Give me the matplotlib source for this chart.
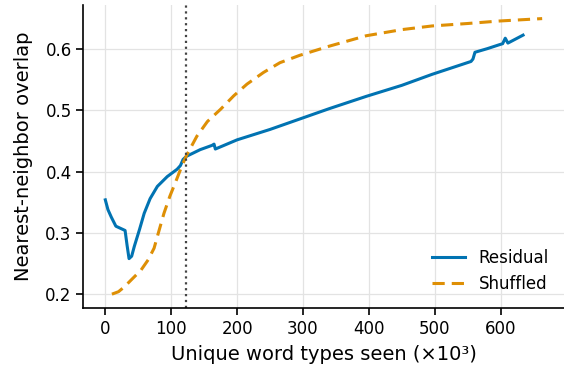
import numpy as np
import matplotlib.pyplot as plt

# overlap curves vs vocabulary size (thousands of word types)
residual_x = [0, 4, 9, 16, 26, 30, 33, 36, 40, 44, 52, 59, 68, 79, 94, 109, 114, 118, 123,
              144, 162, 165, 167, 200, 250, 295, 340, 396, 450, 496, 541, 555, 558, 561,
              580, 597, 603, 607, 611, 634]
residual_y = [0.354, 0.338, 0.326, 0.311, 0.306, 0.304, 0.28, 0.258, 0.262, 0.278, 0.306, 0.332,
              0.356, 0.376, 0.392, 0.404, 0.41, 0.42, 0.425, 0.436, 0.443, 0.445, 0.437,
              0.452, 0.469, 0.486, 0.503, 0.523, 0.541, 0.559, 0.575, 0.58, 0.584, 0.595,
              0.601, 0.607, 0.609, 0.618, 0.610, 0.623]

shuffled_x = [10, 20, 29, 40, 54, 65, 74, 80, 89, 98, 107, 115, 123, 139, 155, 175, 195,
              215, 240, 265, 295, 340, 396, 450, 496, 550, 597, 630, 663]
shuffled_y = [0.200, 0.204, 0.212, 0.224, 0.239, 0.256, 0.275, 0.298, 0.332, 0.360, 0.384, 0.406,
              0.426, 0.458, 0.482, 0.502, 0.524, 0.543, 0.562, 0.578, 0.590, 0.605, 0.622,
              0.632, 0.638, 0.642, 0.646, 0.648, 0.650]

cutoff = 123

plt.rcParams['font.family'] = 'DejaVu Sans'
plt.rcParams['font.size'] = 12

fig = plt.figure(figsize=(5.64, 3.71), dpi=100)
ax = fig.add_axes([0.148, 0.170, 0.852, 0.817])

ax.plot(residual_x, residual_y, color='#0173b2', lw=2.2, label='Residual')
ax.plot(shuffled_x, shuffled_y, color='#de8f05', lw=2.2, ls=(0, (4, 2.3)), label='Shuffled')
ax.axvline(cutoff, color='#444444', lw=1.6, ls=':')

ax.set_xticks([0, 100, 200, 300, 400, 500, 600])
ax.set_yticks([0.2, 0.3, 0.4, 0.5, 0.6])
ax.grid(True, color='#e3e3e3', lw=0.9)
ax.set_axisbelow(True)
for s in ['top', 'right']:
    ax.spines[s].set_visible(False)
for s in ['left', 'bottom']:
    ax.spines[s].set_linewidth(1.2)
ax.tick_params(width=1.2, length=5, labelsize=12)

ax.set_xlabel('Unique word types seen (×10³)', fontsize=14, labelpad=5)
ax.set_ylabel('Nearest-neighbor overlap', fontsize=14, labelpad=9)
ax.legend(loc='lower right', frameon=False, fontsize=12)

fig.savefig('out.png', dpi=100)
plt.close(fig)
